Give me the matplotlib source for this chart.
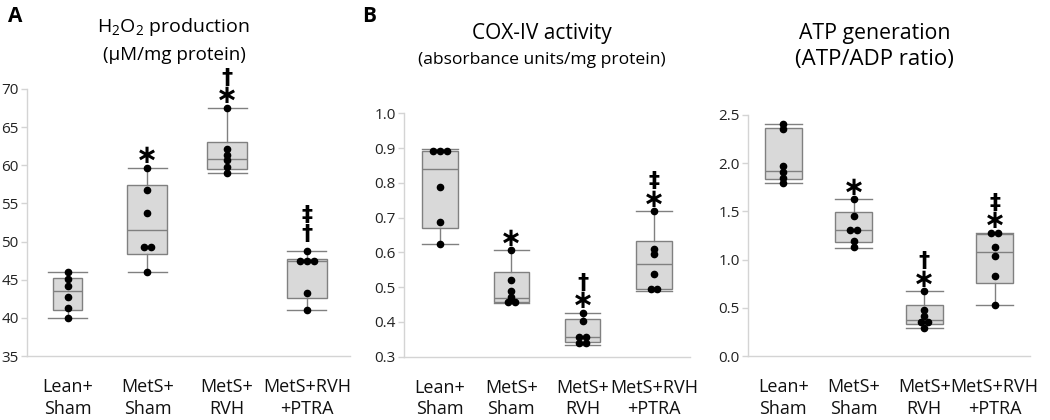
import matplotlib
matplotlib.use("Agg")
import matplotlib.pyplot as plt
import numpy as np

plt.rcParams['font.family'] = ['Open Sans', 'DejaVu Sans']
plt.rcParams['mathtext.fontset'] = 'custom'
plt.rcParams['mathtext.rm'] = 'Open Sans'

groups = ["Lean+\nSham", "MetS+\nSham", "MetS+\nRVH", "MetS+RVH\n+PTRA"]

# ---- Panel A: H2O2 production ----
h2o2_points = [
    [46.0, 45.1, 44.2, 42.7, 41.3, 40.0],
    [59.7, 56.7, 53.7, 49.3, 49.3, 46.0],
    [67.55, 62.2, 61.4, 60.65, 59.8, 58.95],
    [48.8, 47.4, 47.4, 47.4, 43.2, 41.0],
]
h2o2_whislo = [40.0, 46.0, 58.95, 41.0]
h2o2_q1 = [41.0, 48.4, 59.5, 42.6]
h2o2_med = [43.5, 51.5, 60.8, 47.45]
h2o2_q3 = [45.2, 57.4, 63.0, 47.75]
h2o2_whishi = [46.0, 59.7, 67.55, 48.8]
h2o2_marks = [[], ["*"], ["*", "†"], ["†", "‡"]]

# ---- Panel B: COX-IV activity ----
cox_points = [
    [0.893, 0.893, 0.893, 0.789, 0.686, 0.624],
    [0.607, 0.521, 0.488, 0.472, 0.456, 0.456],
    [0.427, 0.402, 0.358, 0.358, 0.338, 0.338],
    [0.718, 0.611, 0.594, 0.538, 0.494, 0.494],
]
cox_whislo = [0.624, 0.454, 0.333, 0.489]
cox_q1 = [0.670, 0.456, 0.341, 0.496]
cox_med = [0.839, 0.468, 0.357, 0.566]
cox_q3 = [0.892, 0.543, 0.407, 0.632]
cox_whishi = [0.897, 0.607, 0.427, 0.718]
cox_marks = [[], ["*"], ["*", "†"], ["*", "‡"]]

# ---- Panel C: ATP generation ----
atp_points = [
    [2.41, 2.35, 1.97, 1.91, 1.85, 1.79],
    [1.63, 1.45, 1.31, 1.31, 1.19, 1.13],
    [0.67, 0.48, 0.41, 0.35, 0.35, 0.29],
    [1.28, 1.28, 1.13, 1.04, 0.83, 0.53],
]
atp_whislo = [1.79, 1.12, 0.294, 0.533]
atp_q1 = [1.84, 1.18, 0.332, 0.754]
atp_med = [1.92, 1.31, 0.373, 1.08]
atp_q3 = [2.36, 1.49, 0.526, 1.27]
atp_whishi = [2.41, 1.63, 0.67, 1.28]
atp_marks = [[], ["*"], ["*", "†"], ["*", "‡"]]

W, H = 1050, 420
fig = plt.figure(figsize=(W / 100, H / 100), dpi=100)

BOX_FACE = "#d9d9d9"
BOX_EDGE = "#808080"
SPINE = "#d4d4d4"

AST_FS = 19
DAG_FS = 16
AST_CENTER = 0.33 * AST_FS * 100 / 72   # glyph centre above baseline (px)
DAG_CENTER = 0.36 * DAG_FS * 100 / 72


def make_ax(px_left, px_right, px_top, px_bottom):
    return fig.add_axes([px_left / W, 1 - px_bottom / H,
                         (px_right - px_left) / W, (px_bottom - px_top) / H])


def draw_panel(ax, points, wlo, q1, med, q3, whi, marks, ylim, yticks, fmt,
               widths, capw, xlim):
    stats = []
    for i in range(len(points)):
        stats.append(dict(whislo=wlo[i], q1=q1[i], med=med[i], q3=q3[i],
                          whishi=whi[i], fliers=[]))
    pos = np.arange(len(points))
    ax.bxp(stats, positions=pos, widths=widths, capwidths=capw,
           patch_artist=True, showfliers=False,
           boxprops=dict(facecolor=BOX_FACE, edgecolor=BOX_EDGE, linewidth=1.0),
           medianprops=dict(color=BOX_EDGE, linewidth=1.0),
           whiskerprops=dict(color=BOX_EDGE, linewidth=1.0),
           capprops=dict(color=BOX_EDGE, linewidth=1.0))
    ax.set_xlim(*xlim)
    ax.set_ylim(*ylim)
    bbox = ax.get_position()
    px_per_unit = bbox.width * W / (xlim[1] - xlim[0])
    dx = 6.7 / px_per_unit
    for i, vals in enumerate(points):
        uniq = []
        for v in vals:
            if v not in uniq:
                uniq.append(v)
        for u in uniq:
            n = vals.count(u)
            offs = (np.arange(n) - (n - 1) / 2) * dx
            ax.plot(pos[i] + offs, [u] * n, 'o', color='black', ms=4.5,
                    zorder=5)
        centre = None
        for k, m in enumerate(marks[i]):
            if centre is None:
                centre = 13 if m == "*" else 19
            else:
                centre += 19
            if m == "*":
                ax.annotate("∗", xy=(pos[i], whi[i]),
                            xytext=(0, centre - AST_CENTER),
                            textcoords='offset pixels', ha='center',
                            va='baseline', fontsize=AST_FS,
                            family='DejaVu Sans', fontweight='bold', zorder=6)
            else:
                ax.annotate(m, xy=(pos[i], whi[i]),
                            xytext=(0, centre - DAG_CENTER),
                            textcoords='offset pixels', ha='center',
                            va='baseline', fontsize=DAG_FS,
                            family='DejaVu Sans', fontweight='bold', zorder=6)
    ax.set_yticks(yticks)
    ax.set_yticklabels([fmt.format(t) for t in yticks])
    ax.set_xticks(pos)
    ax.set_xticklabels(groups, fontsize=13, linespacing=1.25)
    ax.tick_params(axis='x', length=0, pad=16, colors='#111111')
    ax.tick_params(axis='y', length=4, width=1, color=SPINE, labelsize=11,
                   labelcolor='#222222', pad=2)
    for s in ['top', 'right']:
        ax.spines[s].set_visible(False)
    for s in ['left', 'bottom']:
        ax.spines[s].set_color(SPINE)
        ax.spines[s].set_linewidth(1.0)
    ax.set_facecolor('none')


axA = make_ax(27, 350, 89, 356)
draw_panel(axA, h2o2_points, h2o2_whislo, h2o2_q1, h2o2_med, h2o2_q3,
           h2o2_whishi, h2o2_marks, (35, 70), np.arange(35, 71, 5), "{:.0f}",
           [0.37, 0.5, 0.5, 0.5], [0.49] * 4, (-0.51, 3.54))

axB = make_ax(404, 690, 113.3, 356.7)
draw_panel(axB, cox_points, cox_whislo, cox_q1, cox_med, cox_q3, cox_whishi,
           cox_marks, (0.3, 1.0), np.round(np.arange(0.3, 1.01, 0.1), 1),
           "{:.1f}", [0.5] * 4, [0.5] * 4, (-0.505, 3.505))

axC = make_ax(748, 1030, 115, 356)
draw_panel(axC, atp_points, atp_whislo, atp_q1, atp_med, atp_q3, atp_whishi,
           atp_marks, (0.0, 2.5), np.round(np.arange(0.0, 2.51, 0.5), 1),
           "{:.1f}", [0.53] * 4, [0.53] * 4, (-0.5, 3.5))

# titles
fig.text(173 / W, 1 - 27 / H, "H$\\mathregular{_2}$O$\\mathregular{_2}$ production",
         ha='center', va='center', fontsize=14)
fig.text(174 / W, 1 - 55 / H, "(µM/mg protein)", ha='center', va='center',
         fontsize=13.5)
fig.text(542 / W, 1 - 33 / H, "COX-IV activity", ha='center', va='center',
         fontsize=15)
fig.text(542 / W, 1 - 60 / H, "(absorbance units/mg protein)", ha='center',
         va='center', fontsize=12.6)
fig.text(875 / W, 1 - 33 / H, "ATP generation", ha='center', va='center',
         fontsize=15.3)
fig.text(874 / W, 1 - 60 / H, "(ATP/ADP ratio)", ha='center', va='center',
         fontsize=16)

fig.text(8 / W, 1 - 17 / H, "A", ha='left', va='center', fontsize=15,
         fontweight='bold')
fig.text(362 / W, 1 - 17 / H, "B", ha='left', va='center', fontsize=15,
         fontweight='bold')

fig.savefig("out.png", dpi=100)
